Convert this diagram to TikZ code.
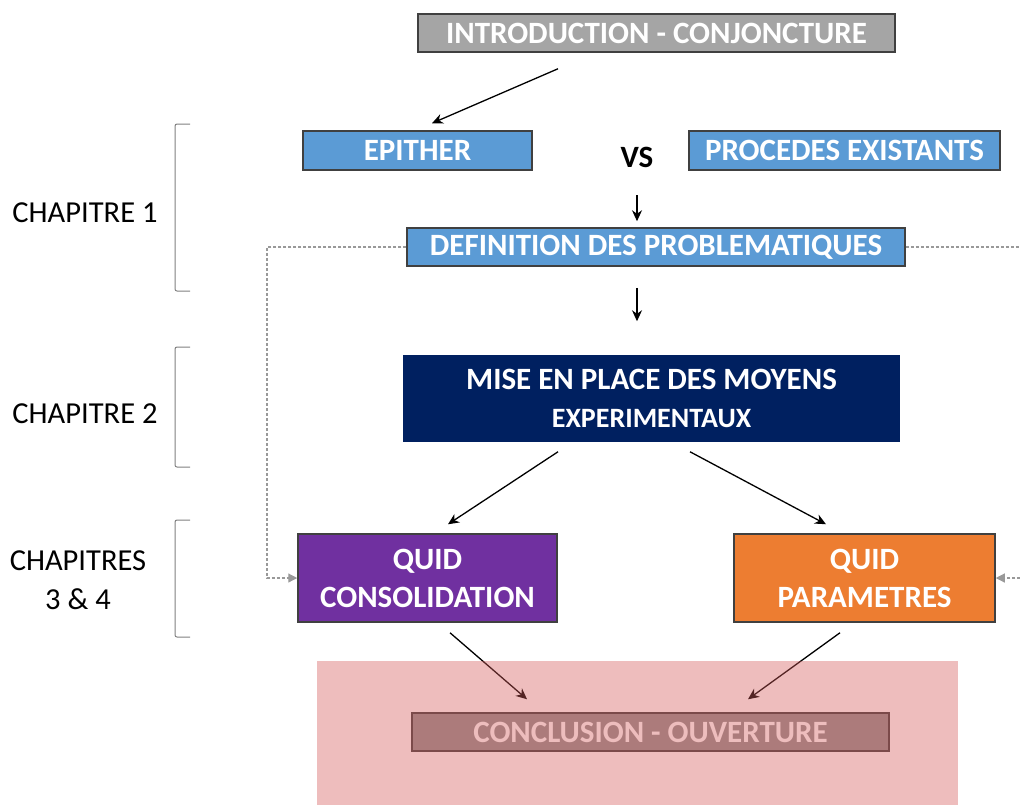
\documentclass[tikz,border=0pt]{standalone}
\usepackage{fontspec}
\setmainfont{Carlito}
\usetikzlibrary{arrows.meta,calc,positioning}
\definecolor{introgray}{HTML}{A5A5A5}
\definecolor{conclgray}{HTML}{929292}
\definecolor{epiblue}{HTML}{5B9BD5}
\definecolor{navy}{HTML}{002060}
\definecolor{quidviolet}{HTML}{7030A0}
\definecolor{quidorange}{HTML}{ED7D31}
\definecolor{veilpink}{RGB}{212,90,90}
\tikzset{
  >=Stealth,
  box/.style={draw=black!75, line width=1.5pt, text=white, inner sep=0pt,
    font=\bfseries\fontsize{31}{38}\selectfont},
  chap/.style={font=\fontsize{30.5}{39}\selectfont, align=center},
  brace/.style={draw=black!50, line width=1pt, rounded corners=2pt},
  link/.style={->, line width=1.3pt, >={Stealth[length=11pt,width=10pt]}},
  feedback/.style={->, draw=black!40, line width=1.2pt, dash pattern=on 3pt off 2pt,
    >={Triangle[length=9pt,width=9pt]}},
}

\begin{document}
\begin{tikzpicture}[x=1pt,y=-1pt]
\useasboundingbox (0,0) rectangle (1020,804);
\clip (0,0) rectangle (1020,804);

% chapters
\node[chap] (chap1) at (85,213) {CHAPITRE 1};
\node[chap] (chap2) at (85,414) {CHAPITRE 2};
\node[chap] (chap34) at (78,580) {CHAPITRES\\3 \& 4};
\foreach \ytop/\ybot in {124/291, 347/467, 520/637}
  \draw[brace] (190,\ytop) -- (175,\ytop) -- (175,\ybot) -- (190,\ybot);

% boxes
\node[box, fill=introgray, minimum width=477pt, minimum height=38pt] (intro) at (656.5,33) {INTRODUCTION - CONJONCTURE};
\node[box, fill=epiblue, minimum width=229pt, minimum height=39pt] (epither) at (417.5,150.5) {EPITHER};
\node[font=\bfseries\fontsize{31}{38}\selectfont] (vs) at (637,157) {VS};
\node[box, fill=epiblue, minimum width=311pt, minimum height=39pt] (procedes) at (844.5,150.5) {PROCEDES EXISTANTS};
\node[box, fill=epiblue, minimum width=498pt, minimum height=38pt] (defin) at (656,247) {DEFINITION DES PROBLEMATIQUES};
\node[box, draw=none, fill=navy, minimum width=497pt, minimum height=87pt, align=center] (moyens) at (651.5,398.5)
  {MISE EN PLACE DES MOYENS\\{\fontsize{28}{37}\selectfont EXPERIMENTAUX}};
\node[box, fill=quidviolet, minimum width=259pt, minimum height=88pt, align=center] (consol) at (427.5,578) {QUID\\CONSOLIDATION};
\node[box, fill=quidorange, minimum width=261pt, minimum height=88pt, align=center] (param) at (864.5,578) {QUID\\PARAMETRES};
\node[box, fill=conclgray, minimum width=477pt, minimum height=38pt] (concl) at (650.5,732) {CONCLUSION - OUVERTURE};

% arrows
\draw[link] ($(intro.south)+(-98.5,16)$) -- ($(epither.north)+(14.5,-7)$);
\draw[link] ($(vs)+(0,38)$) -- ($(vs |- defin.north)+(0,-6)$);
\draw[link] ($(vs |- defin.south)+(0,21)$) -- ($(vs |- moyens.north)+(0,-33)$);
\draw[link] ($(moyens.south)+(-93.5,9)$) -- ($(consol.north)+(20.5,-9)$);
\draw[link] ($(moyens.south)+(38.5,9)$) -- ($(param.north)+(-38.5,-9)$);
\draw[link] ($(consol.south)+(22.5,10)$) -- ($(concl.north)+(-123.5,-13)$);
\draw[link] ($(param.south)+(-24.5,10)$) -- ($(concl.north)+(97.5,-13)$);

% feedback loops
\coordinate (loopL) at (267,578);
\coordinate (loopR) at (1030,578);
\draw[feedback] (defin.west) -| (loopL) -- (consol.west);
\draw[feedback] (defin.east) -| (loopR) -- (param.east);

% veil
\fill[veilpink, fill opacity=0.4] (317,661) rectangle (958,810);
\end{tikzpicture}
\end{document}
